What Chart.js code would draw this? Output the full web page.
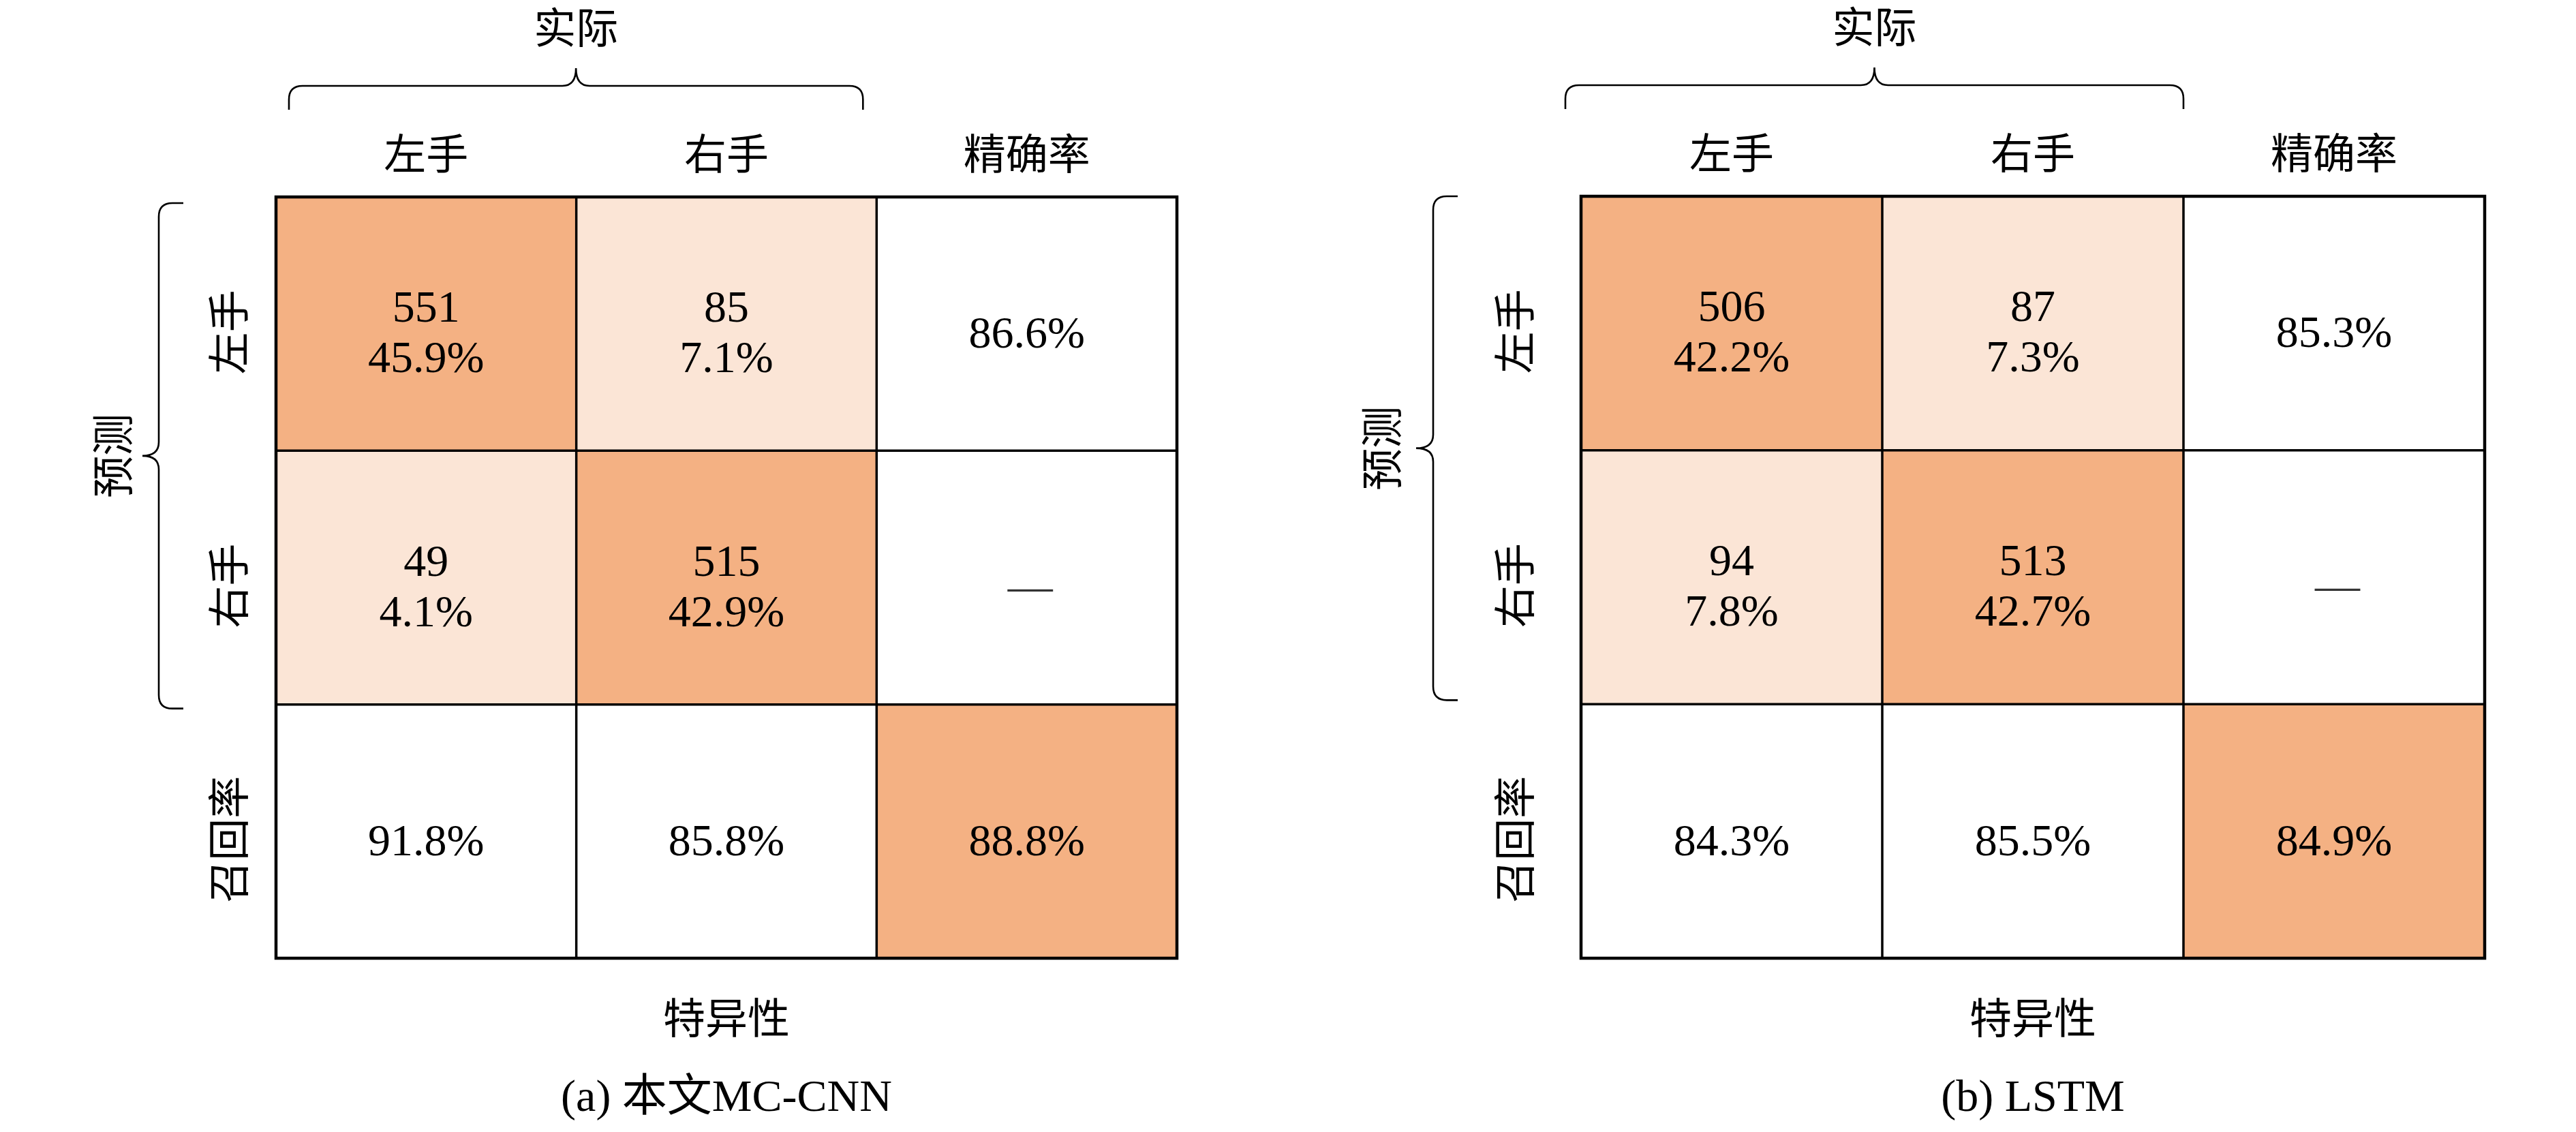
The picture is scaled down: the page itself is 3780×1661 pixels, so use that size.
<!DOCTYPE html>
<html>
<head>
<meta charset="utf-8">
<title>混淆矩阵</title>
<script src="https://cdn.jsdelivr.net/npm/chart.js@4.4.0/dist/chart.umd.min.js"></script>
<style>
  html, body { margin: 0; padding: 0; background: #fff; }
  #wrap { position: relative; width: 3780px; height: 1661px; overflow: hidden; }
  #wrap canvas { position: absolute; top: 0; }
</style>
</head>
<body>
<div id="wrap">
  <canvas id="cnnChart" width="1890" height="1661" style="left:0px"></canvas>
  <canvas id="lstmChart" width="1890" height="1661" style="left:1890px"></canvas>
</div>
<script>
// labels
var colLabels = ['左手', '右手', '精确率'];
var rowLabels = ['左手', '右手', '召回率'];
var actualTitle = '实际';
var predTitle = '预测';
var bottomTitle = '特异性';

// (a) MC-CNN
var cnnCounts = [[551, 85], [49, 515]];
var cnnShares = [[45.9, 7.1], [4.1, 42.9]];
var cnnPrecision = [86.6, null];
var cnnRecall = [91.8, 85.8];
var cnnAccuracy = 88.8;

// (b) LSTM
var lstmCounts = [[506, 87], [94, 513]];
var lstmShares = [[42.2, 7.3], [7.8, 42.7]];
var lstmPrecision = [85.3, null];
var lstmRecall = [84.3, 85.5];
var lstmAccuracy = 84.9;

var DARK = '#F4B183';
var LIGHT = '#FBE5D6';
var NUM_FONT = '66px "Liberation Serif", "DejaVu Serif", serif';
var CJK_FONT = '62px "Noto Sans CJK SC", sans-serif';
var CAP_FONT = '66px "Liberation Serif", "Noto Sans CJK SC", serif';

function cellColor(r, c) {
    if (r === 2 && c === 2) return DARK;
    if (r === 2 || c === 2) return '#ffffff';
    return r === c ? DARK : LIGHT;
}

function cellLines(p, r, c) {
    if (r < 2 && c < 2) return [String(p.counts[r][c]), p.shares[r][c].toFixed(1) + '%'];
    if (r < 2) return p.precision[r] === null ? ['\u2014'] : [p.precision[r].toFixed(1) + '%'];
    if (c < 2) return [p.recall[c].toFixed(1) + '%'];
    return [p.accuracy.toFixed(1) + '%'];
}

function braceH(ctx, x0, x1, yLine, yTip, yEnd) {
    var xm = (x0 + x1) / 2, r = 20;
    ctx.beginPath();
    ctx.moveTo(x0, yEnd);
    ctx.lineTo(x0, yLine + r);
    ctx.quadraticCurveTo(x0, yLine, x0 + r, yLine);
    ctx.lineTo(xm - r, yLine);
    ctx.quadraticCurveTo(xm, yLine, xm, yTip);
    ctx.quadraticCurveTo(xm, yLine, xm + r, yLine);
    ctx.lineTo(x1 - r, yLine);
    ctx.quadraticCurveTo(x1, yLine, x1, yLine + r);
    ctx.lineTo(x1, yEnd);
    ctx.stroke();
}

function braceV(ctx, y0, y1, xLine, xTip, xEnd) {
    var ym = (y0 + y1) / 2, r = 20;
    ctx.beginPath();
    ctx.moveTo(xEnd, y0);
    ctx.lineTo(xLine + r, y0);
    ctx.quadraticCurveTo(xLine, y0, xLine, y0 + r);
    ctx.lineTo(xLine, ym - r);
    ctx.quadraticCurveTo(xLine, ym, xTip, ym);
    ctx.quadraticCurveTo(xLine, ym, xLine, ym + r);
    ctx.lineTo(xLine, y1 - r);
    ctx.quadraticCurveTo(xLine, y1, xLine + r, y1);
    ctx.lineTo(xEnd, y1);
    ctx.stroke();
}

// draws the cell texts, grid lines, headers and braces
var matrixDecor = {
    id: 'matrixDecor',
    afterDraw: function(chart, args, opts) {
        var ctx = chart.ctx;
        var area = chart.chartArea;
        var p = opts.panel;
        var cells = [];
        chart.data.datasets.forEach(function(ds, r) {
            var meta = chart.getDatasetMeta(r);
            cells[r] = meta.data.map(function(el) {
                return {
                    left: el.x - el.width / 2,
                    right: el.x + el.width / 2,
                    top: Math.min(el.y, el.base),
                    bottom: Math.max(el.y, el.base)
                };
            });
        });

        ctx.save();
        ctx.fillStyle = '#000';
        ctx.strokeStyle = '#000';

        // inner grid
        ctx.lineWidth = 3.5;
        ctx.beginPath();
        for (var c = 1; c < colLabels.length; c++) {
            ctx.moveTo(cells[0][c].left, area.top);
            ctx.lineTo(cells[0][c].left, area.bottom);
        }
        for (var r = 1; r < rowLabels.length; r++) {
            ctx.moveTo(area.left, cells[r][0].top);
            ctx.lineTo(area.right, cells[r][0].top);
        }
        ctx.stroke();
        ctx.lineWidth = 4.5;
        ctx.strokeRect(area.left, area.top, area.right - area.left, area.bottom - area.top);

        // cell values
        ctx.font = NUM_FONT;
        ctx.textAlign = 'center';
        ctx.textBaseline = 'alphabetic';
        cells.forEach(function(row, r) {
            row.forEach(function(cell, c) {
                var cx = (cell.left + cell.right) / 2;
                var cy = (cell.top + cell.bottom) / 2;
                var lines = cellLines(p, r, c);
                if (lines.length === 2) {
                    ctx.fillText(lines[0], cx, cy - 3);
                    ctx.fillText(lines[1], cx, cy + 71);
                } else if (lines[0] === '\u2014') {
                    ctx.fillStyle = '#333';
                    ctx.fillText(lines[0], cx + 5, cy + 34);
                    ctx.fillStyle = '#000';
                } else {
                    ctx.fillText(lines[0], cx, cy + 35);
                }
            });
        });

        // column headers
        ctx.font = CJK_FONT;
        ctx.textBaseline = 'middle';
        cells[0].forEach(function(cell, c) {
            ctx.fillText(colLabels[c], (cell.left + cell.right) / 2, area.top - 64);
        });

        // row headers, rotated
        cells.forEach(function(row, r) {
            var cy = (row[0].top + row[0].bottom) / 2 + 12;
            ctx.save();
            ctx.translate(area.left + p.rowLabelDx, cy);
            ctx.rotate(-Math.PI / 2);
            ctx.fillText(rowLabels[r], 0, 0);
            ctx.restore();
        });

        // top brace and title
        ctx.lineWidth = 2.6;
        var bx0 = cells[0][0].left + p.topBraceL;
        var bx1 = cells[0][1].right + p.topBraceR;
        braceH(ctx, bx0, bx1, area.top - 163, area.top - 189, area.top - 128);
        ctx.fillText(actualTitle, (bx0 + bx1) / 2, area.top - 249);

        // left brace and title
        var by0 = area.top + p.sideBraceT;
        var by1 = cells[1][0].bottom + p.sideBraceB;
        braceV(ctx, by0, by1, area.left + p.braceLine, area.left + p.braceTip, area.left + p.braceEnd);
        ctx.save();
        ctx.translate(area.left + p.predDx, (by0 + by1) / 2);
        ctx.rotate(-Math.PI / 2);
        ctx.fillText(predTitle, 0, 0);
        ctx.restore();

        // bottom title and caption
        var mx = (area.left + area.right) / 2;
        ctx.fillText(bottomTitle, mx, area.bottom + 87);
        ctx.font = CAP_FONT;
        ctx.fillText(p.caption, mx, area.bottom + 207);
        ctx.restore();
    }
};

function buildMatrix(canvasId, panel, pad) {
    var datasets = rowLabels.map(function(label, r) {
        return {
            label: label,
            data: colLabels.map(function() { return 1; }),
            backgroundColor: colLabels.map(function(c, ci) { return cellColor(r, ci); }),
            borderWidth: 0,
            barPercentage: 1,
            categoryPercentage: 1
        };
    });
    return new Chart(document.getElementById(canvasId).getContext('2d'), {
        type: 'bar',
        data: { labels: colLabels, datasets: datasets },
        plugins: [matrixDecor],
        options: {
            responsive: false,
            animation: false,
            devicePixelRatio: 1,
            layout: { padding: pad },
            scales: {
                x: { stacked: true, display: false },
                y: { stacked: true, display: false, min: 0, max: rowLabels.length, reverse: true }
            },
            plugins: {
                legend: { display: false },
                tooltip: { enabled: false },
                matrixDecor: { panel: panel }
            }
        }
    });
}

document.addEventListener('DOMContentLoaded', function() {
    buildMatrix('cnnChart', {
        counts: cnnCounts, shares: cnnShares, precision: cnnPrecision,
        recall: cnnRecall, accuracy: cnnAccuracy, caption: '(a) 本文MC-CNN',
        rowLabelDx: -70, braceEnd: -136, braceLine: -172, braceTip: -196, predDx: -240,
        topBraceL: 19, topBraceR: -20, sideBraceT: 9, sideBraceB: 6
    }, { left: 405, right: 163, top: 289, bottom: 255 });

    buildMatrix('lstmChart', {
        counts: lstmCounts, shares: lstmShares, precision: lstmPrecision,
        recall: lstmRecall, accuracy: lstmAccuracy, caption: '(b) LSTM',
        rowLabelDx: -98, braceEnd: -181, braceLine: -217, braceTip: -242, predDx: -293,
        topBraceL: -23, topBraceR: 0, sideBraceT: 0, sideBraceB: -6
    }, { left: 430, right: 134, top: 288, bottom: 255 });
});
</script>
</body>
</html>
